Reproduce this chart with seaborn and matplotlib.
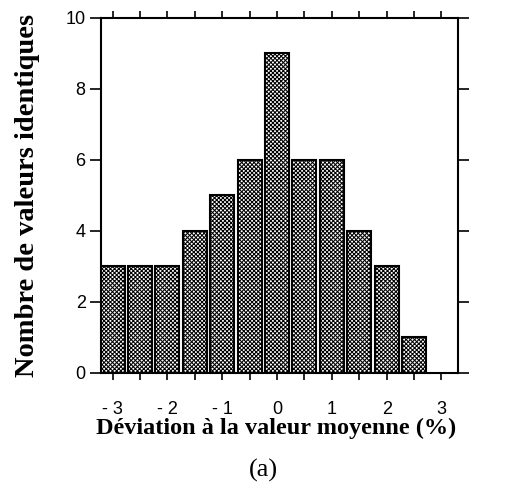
import numpy as np
import pandas as pd
import seaborn as sns
import matplotlib.pyplot as plt

# Deviation from the mean value (%) and count of identical values
deviation = [-3.0, -2.5, -2.0, -1.5, -1.0, -0.5, 0.0, 0.5, 1.0, 1.5, 2.0, 2.5]
counts = [3, 3, 3, 4, 5, 6, 9, 6, 6, 4, 3, 1]

tick_positions = [-3.0, -2.5, -2.0, -1.5, -1.0, -0.5, 0.0, 0.5, 1.0, 1.5, 2.0, 2.5, 3.0]
tick_labels = ["- 3", "", "- 2", "", "- 1", "", "0", "", "1", "", "2", "", "3"]
y_ticks = [0, 2, 4, 6, 8, 10]

sns.set_theme(style="ticks")
plt.rcParams["font.family"] = ["Liberation Sans", "DejaVu Sans"]
plt.rcParams["hatch.linewidth"] = 0.75

df = pd.DataFrame({"deviation": deviation, "count": counts})

fig = plt.figure(figsize=(5.18, 4.94), dpi=100)
ax = fig.add_axes([0.195, 0.245, 0.689, 0.719])

# dotted-texture bars with black outline
sns.barplot(data=df, x="deviation", y="count", native_scale=True, width=0.88,
            color="white", edgecolor="black", hatch="x" * 8, linewidth=1.5,
            saturation=1, ax=ax, zorder=2)

ax.set_xlim(-3.21, 3.30)
ax.set_ylim(0, 10)
ax.set_xticks(tick_positions)
ax.set_xticklabels(tick_labels)
ax.set_yticks(y_ticks)
ax.set_yticklabels([str(v) for v in y_ticks])

for s in ax.spines.values():
    s.set_visible(True)
    s.set_linewidth(1.5)
    s.set_color("black")

ax.tick_params(axis="both", direction="out", width=1.2, colors="black",
               labelsize=13, top=True, right=True, labeltop=False, labelright=False)
ax.tick_params(axis="x", length=5, pad=15)
ax.tick_params(axis="y", length=8, pad=3)

ax.set_xlabel("Déviation à la valeur moyenne (%)", fontfamily="Liberation Serif",
              fontweight="bold", fontsize=17.5, color="black")
ax.xaxis.set_label_coords(0.49, -0.125)
ax.set_ylabel("Nombre de valeurs identiques", fontfamily="Liberation Serif",
              fontweight="bold", fontsize=20.5, color="black")
ax.yaxis.set_label_coords(-0.17, 0.50)

fig.text(263 / 518, 1 - 470 / 494, "(a)", ha="center", va="center",
         fontfamily="Liberation Serif", fontsize=19, color="black")

fig.savefig("out.png", dpi=100, facecolor="white")
